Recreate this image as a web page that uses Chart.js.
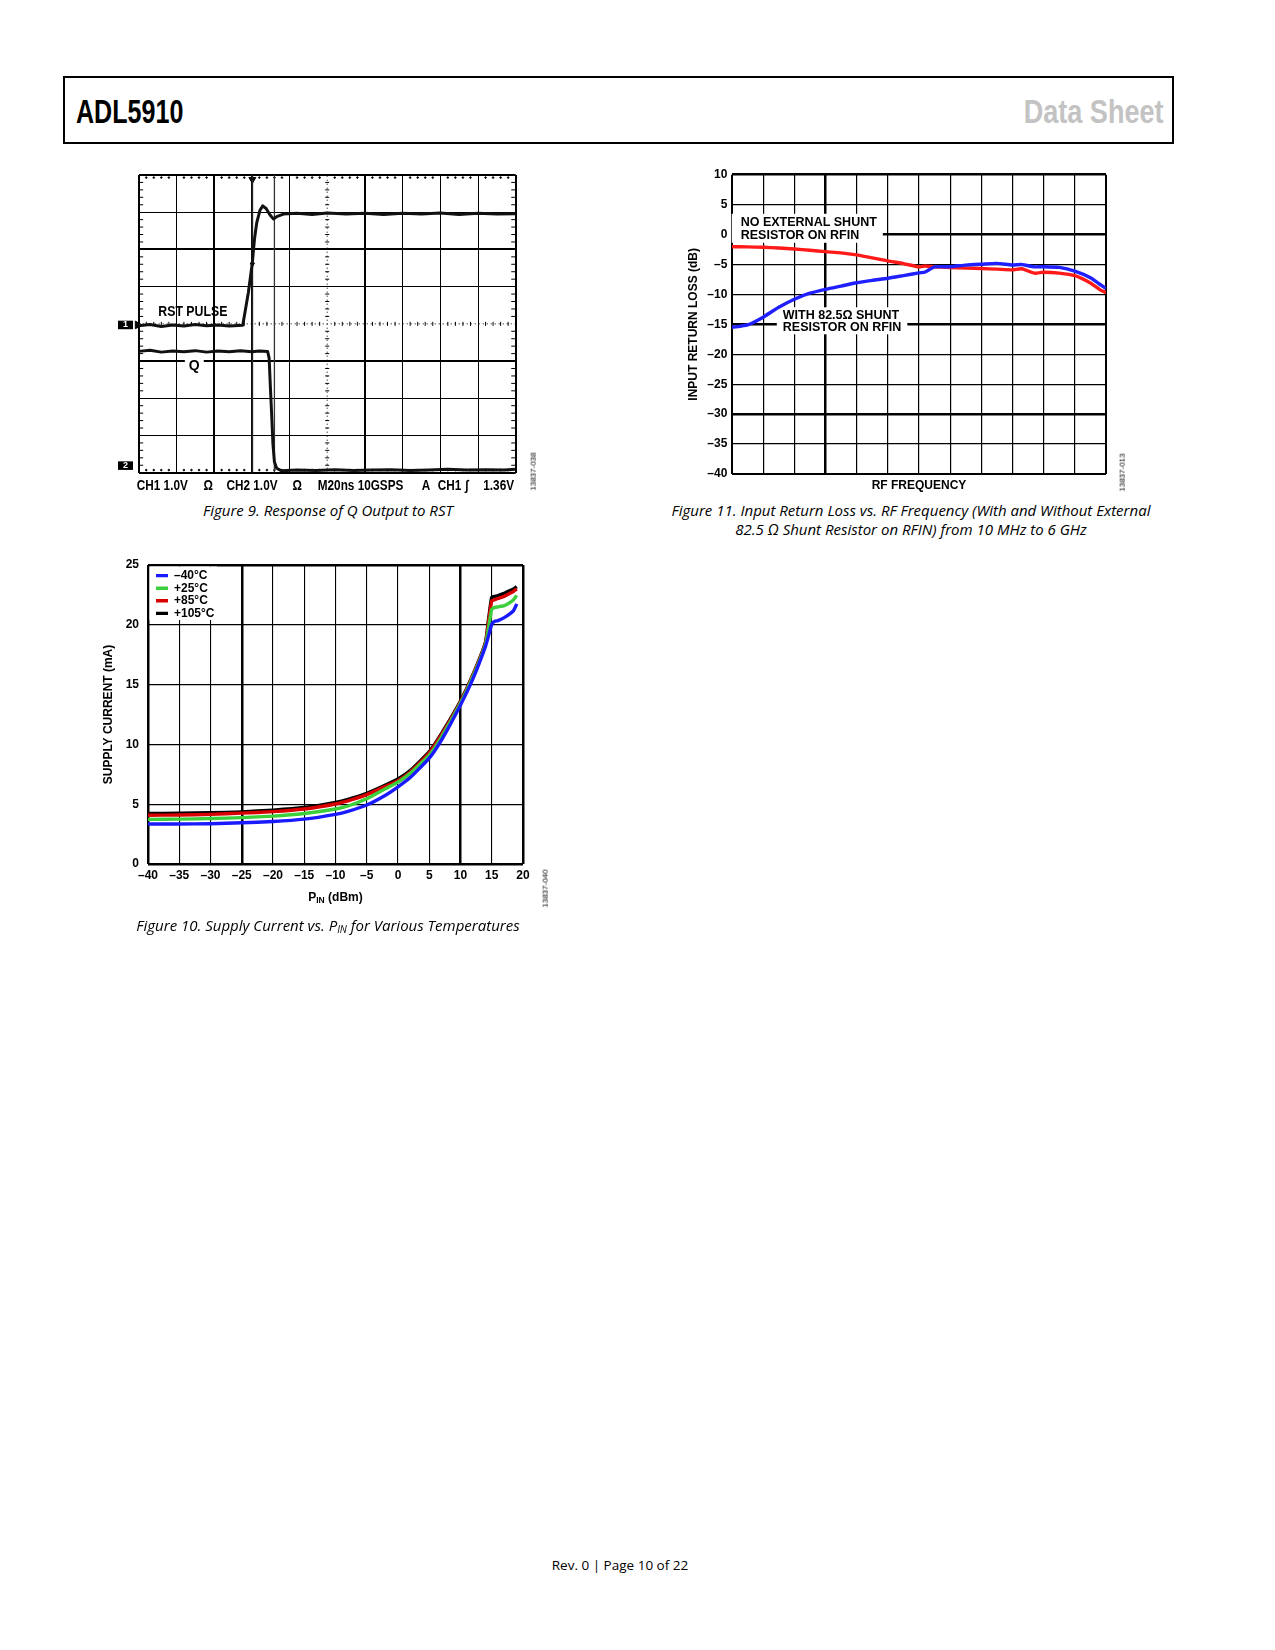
<!DOCTYPE html>
<html>
<head>
<meta charset="utf-8">
<title>ADL5910 Data Sheet - page 10</title>
<script src="https://cdn.jsdelivr.net/npm/chart.js@4.4.0/dist/chart.umd.min.js"></script>
<style>
  body { margin: 0; background: #fff; }
  #page { position: relative; width: 1275px; height: 1650px; overflow: hidden; background: #fff;
          font-family: "Liberation Sans", Arial, sans-serif; color: #000; }
  .hdr { position: absolute; left: 63px; top: 76px; width: 1111px; height: 68px;
         border: 2px solid #000; box-sizing: border-box; }
  .hdrtxt { position: absolute; top: 95px; font-family: "Liberation Sans", Arial, sans-serif;
            font-weight: bold; font-size: 33px; line-height: 33px; white-space: nowrap; transform: scaleX(0.76); }
  .plot { position: absolute; }
  .cap { position: absolute; text-align: center; font-family: "Open Sans", "Noto Sans", sans-serif;
         font-style: italic; font-size: 15px; line-height: 19px; white-space: nowrap; }
  .cap sub { font-size: 10px; vertical-align: -2px; line-height: 0; }
  .wm { position: absolute; font-size: 8px; white-space: nowrap; transform: rotate(-90deg); transform-origin: center; }
  .foot { position: absolute; left: 470px; top: 1555px; width: 300px; text-align: center;
          font-family: "Open Sans", "Noto Sans", sans-serif; font-size: 13.5px; line-height: 20px; }
</style>
</head>
<body>
<div id="page">
  <div class="hdr"></div>
  <div class="hdrtxt" style="left:76px;transform-origin:left center;">ADL5910</div>
  <div class="hdrtxt" style="right:111px;color:#c3c3c3;transform-origin:right center;transform:scaleX(0.82);">Data Sheet</div>

  <div class="plot" style="left:100px;top:160px;width:440px;height:340px;"><canvas id="fig9"></canvas></div>
  <div class="wm" style="left:514px;top:467px;">13837-038</div>
  <div class="cap" style="left:128px;top:501px;width:400px;">Figure 9. Response of Q Output to RST</div>

  <div class="plot" style="left:640px;top:160px;width:500px;height:340px;"><canvas id="fig11"></canvas></div>
  <div class="wm" style="left:1103px;top:468px;">13837-013</div>
  <div class="cap" style="left:611px;top:501px;width:600px;">Figure 11. Input Return Loss vs. RF Frequency (With and Without External<br>82.5 Ω Shunt Resistor on RFIN) from 10 MHz to 6 GHz</div>

  <div class="plot" style="left:95px;top:525px;width:455px;height:395px;"><canvas id="fig10"></canvas></div>
  <div class="wm" style="left:526px;top:884px;">13837-040</div>
  <div class="cap" style="left:128px;top:916px;width:400px;">Figure 10. Supply Current vs. P<sub>IN</sub> for Various Temperatures</div>

  <div class="foot">Rev. 0 | Page 10 of 22</div>
</div>

<script>
// ---------- Figure 9: scope screen, values in divisions (10 across, 8 up) ----------
const rstX = [0, 0.3, 0.6, 0.9, 1.2, 1.5, 1.8, 2.1, 2.4, 2.76, 2.91, 3.015, 3.07, 3.13, 3.22, 3.29, 3.38, 3.48, 3.57, 3.66, 3.84, 4.2, 4.6, 5.0, 5.5, 6.0, 6.5, 7.0, 7.5, 8.0, 8.5, 9.0, 9.5, 10];
const rstY = [3.95, 3.98, 3.93, 3.97, 3.94, 3.98, 3.95, 3.97, 3.94, 3.96, 4.85, 5.65, 6.27, 6.71, 7.06, 7.17, 7.1, 6.93, 6.82, 6.88, 6.95, 6.97, 6.94, 6.98, 6.95, 6.97, 6.94, 6.97, 6.95, 6.98, 6.94, 6.97, 6.95, 6.96];
const qX = [0, 0.3, 0.6, 0.9, 1.2, 1.5, 1.8, 2.1, 2.4, 2.7, 3.0, 3.2, 3.42, 3.46, 3.49, 3.53, 3.56, 3.6, 3.66, 3.79, 4.2, 4.7, 5.2, 5.7, 6.2, 6.7, 7.2, 7.7, 8.2, 8.7, 9.2, 9.7, 10];
const qY = [3.26, 3.29, 3.24, 3.27, 3.25, 3.28, 3.24, 3.27, 3.25, 3.28, 3.25, 3.27, 3.26, 3.08, 2.37, 1.49, 0.78, 0.29, 0.12, 0.05, 0.07, 0.06, 0.08, 0.06, 0.07, 0.08, 0.06, 0.07, 0.09, 0.07, 0.08, 0.07, 0.09];
const cursorX = [3.015, 3.6];
const markerLevels = [3.97, 0.19];
const markerNames = ['1', '2'];
const scopeInfo = [
  [-0.05, 'CH1 1.0V'], [1.72, 'Ω'], [2.33, 'CH2 1.0V'], [4.08, 'Ω'],
  [4.75, 'M20ns 10GSPS'], [7.51, 'A'], [7.93, 'CH1'], [8.66, '∫'], [9.14, '1.36V']
];

// ---------- Figure 10: supply current (mA) vs PIN (dBm) ----------
const pinDbm = [-40, -35, -30, -25, -20, -15, -10, -8, -5, -2, 0, 2, 5, 7, 10, 12, 14, 14.5, 15, 15.5, 16, 17, 18, 18.5, 19];
const iM40  = [3.34, 3.35, 3.37, 3.45, 3.55, 3.75, 4.15, 4.4, 4.93, 5.75, 6.45, 7.25, 8.85, 10.4, 13.3, 15.5, 18.2, 19.1, 20.05, 20.3, 20.35, 20.6, 20.95, 21.2, 21.75];
const iP25  = [3.73, 3.75, 3.8, 3.88, 4.0, 4.22, 4.6, 4.85, 5.45, 6.3, 6.85, 7.6, 9.1, 10.65, 13.45, 15.7, 18.35, 19.8, 21.3, 21.45, 21.5, 21.6, 21.9, 22.1, 22.45];
const iP85  = [4.08, 4.1, 4.15, 4.25, 4.38, 4.6, 5.02, 5.28, 5.8, 6.5, 6.97, 7.72, 9.3, 10.85, 13.55, 15.8, 18.45, 20.3, 22.0, 22.1, 22.2, 22.38, 22.65, 22.8, 23.0];
const iP105 = [4.22, 4.24, 4.28, 4.36, 4.5, 4.72, 5.15, 5.4, 5.9, 6.6, 7.1, 7.83, 9.4, 10.95, 13.63, 15.85, 18.55, 20.5, 22.3, 22.38, 22.45, 22.63, 22.88, 23.0, 23.2];
const tempLabels = ['–40°C', '+25°C', '+85°C', '+105°C'];
const tempColors = ['#1a1aff', '#3ccf3c', '#d80000', '#000000'];

// ---------- Figure 11: input return loss (dB), x in grid columns (10 MHz ... 6 GHz) ----------
const freqCol = [0, 0.5, 1, 1.5, 2, 2.5, 3, 3.5, 4, 4.5, 5, 5.5, 6, 6.2, 6.5, 7, 7.5, 8, 8.5, 9, 9.3, 9.7, 10, 10.5, 11, 11.5, 11.8, 12];
const rlNoShunt = [-2.03, -2.06, -2.13, -2.25, -2.42, -2.62, -2.86, -3.05, -3.4, -3.9, -4.4, -4.85, -5.4, -5.25, -5.4, -5.5, -5.6, -5.68, -5.78, -5.9, -5.72, -6.45, -6.3, -6.45, -6.88, -8.1, -9.2, -9.7];
const rlShunt   = [-15.5, -15.1, -13.8, -12.15, -10.8, -9.8, -9.15, -8.6, -8.05, -7.65, -7.3, -6.85, -6.4, -6.25, -5.4, -5.37, -5.1, -4.95, -4.82, -5.08, -5.0, -5.4, -5.37, -5.48, -6.1, -7.2, -8.3, -9.0];

const FONT = '"Liberation Sans", Arial, sans-serif';
Chart.defaults.font.family = FONT;
Chart.defaults.color = '#000';
Chart.defaults.animation = false;
Chart.defaults.events = [];
Chart.defaults.plugins.tooltip.enabled = false;
Chart.defaults.plugins.legend.display = false;

function pts(xs, ys) { return xs.map((x, i) => ({x: x, y: ys[i]})); }
function dash(s) { return String(s).replace('-', '\u2013'); }
// grid line width per tick value, a value of 0 hides the line
function gridW(special, base) {
  return c => (c.tick && special[c.tick.value] !== undefined) ? special[c.tick.value] : base;
}
function gridC(special) {
  return c => (c.tick && special[c.tick.value] === 0) ? 'rgba(0,0,0,0)' : '#000';
}

// text notes placed in data units, optional white patch below them
const notesPlugin = {
  id: 'notes',
  afterLayout(chart, args, opts) {
    if (opts.legendShift && chart.legend) {
      // a vertical legend in the chart area gets top = 0, put it back inside
      const ca = chart.chartArea;
      chart.legend.left = ca.left + opts.legendShift.x;
      chart.legend.top = ca.top + opts.legendShift.y;
      chart.legend.bottom = ca.bottom;
    }
  },
  beforeDatasetsDraw(chart, args, opts) {
    const ctx = chart.ctx;
    const xs = chart.scales.x, ys = chart.scales.y;
    if (opts.legendPatch) {
      const p = opts.legendPatch;
      const l = xs.getPixelForValue(p.x0) + 1.5, t = ys.getPixelForValue(p.y0) + 1.5;
      ctx.save();
      ctx.fillStyle = '#fff';
      ctx.fillRect(l, t, xs.getPixelForValue(p.x1) - l, ys.getPixelForValue(p.y1) - t);
      ctx.restore();
      chart.legend.draw();
    }
    (opts.items || []).forEach(it => {
      if (!it.bg) return;
      ctx.save();
      ctx.font = it.font;
      const sx = it.sx || 1;
      const w = Math.max(...it.lines.map(s => ctx.measureText(s).width)) * sx;
      const px = xs.getPixelForValue(it.x), py = ys.getPixelForValue(it.y);
      const left = it.align === 'center' ? px - w / 2 : px;
      const top = py - it.lh / 2;
      ctx.fillStyle = '#fff';
      ctx.fillRect(left - it.bg.l, top - it.bg.t, w + it.bg.l + it.bg.r, it.lh * it.lines.length + it.bg.t + it.bg.b);
      ctx.restore();
    });
  },
  afterDatasetsDraw(chart, args, opts) {
    const ctx = chart.ctx;
    const xs = chart.scales.x, ys = chart.scales.y;
    (opts.items || []).forEach(it => {
      const px = xs.getPixelForValue(it.x), py = ys.getPixelForValue(it.y);
      ctx.save();
      ctx.fillStyle = '#000';
      ctx.textBaseline = 'middle';
      if (it.segs) {
        let total = 0;
        it.segs.forEach(s => { ctx.font = s[1]; total += ctx.measureText(s[0]).width; });
        let cx = px - total / 2;
        ctx.textAlign = 'left';
        it.segs.forEach(s => {
          ctx.font = s[1];
          ctx.fillText(s[0], cx, py + (s[2] || 0));
          cx += ctx.measureText(s[0]).width;
        });
      } else {
        ctx.font = it.font;
        ctx.textAlign = it.align || 'left';
        it.lines.forEach((s, i) => {
          ctx.save();
          ctx.translate(px, py + i * it.lh);
          ctx.scale(it.sx || 1, 1);
          ctx.fillText(s, 0, 0);
          ctx.restore();
        });
      }
      ctx.restore();
    });
  }
};

// ================= Figure 9 =================
const minorSteps = [];
for (let i = 1; i < 50; i++) { if (i % 5 !== 0) minorSteps.push(i / 5); }
const minorStepsY = minorSteps.filter(v => v < 8);

const scopeFont = 'bold 14px ' + FONT;
const fig9Notes = [
  {x: 0.52, y: 4.32, lines: ['RST PULSE'], font: scopeFont, lh: 16, sx: 0.88},
  {x: 1.475, y: 2.86, lines: ['Q'], font: scopeFont, lh: 15, align: 'center', bg: {l: 4, r: 4, t: 0, b: 0}}
].concat(scopeInfo.map(s => ({x: s[0], y: -0.37, lines: [s[1]], font: scopeFont, lh: 16, sx: 0.84})));

function tickSet(xs, ys, style, radius, rot) {
  return {data: pts(xs, ys), showLine: false, pointStyle: style, pointRadius: radius, pointRotation: rot || 0,
          borderColor: '#000', backgroundColor: '#000', pointBorderWidth: 1};
}

new Chart(document.getElementById('fig9'), {
  type: 'scatter',
  data: {
    datasets: [
      {label: 'RST PULSE', data: pts(rstX, rstY), showLine: true, borderColor: '#111', borderWidth: 3, pointRadius: 0, borderJoinStyle: 'round'},
      {label: 'Q', data: pts(qX, qY), showLine: true, borderColor: '#111', borderWidth: 3, pointRadius: 0, borderJoinStyle: 'round'},
      {label: 'cursor a', data: pts([cursorX[0], cursorX[0]], [0, 8]), showLine: true, borderColor: '#222', borderWidth: 1.6, pointRadius: 0},
      {label: 'cursor b', data: pts([cursorX[1], cursorX[1]], [0, 8]), showLine: true, borderColor: '#333', borderWidth: 1.3, pointRadius: 0},
      {label: 'center v', data: pts([5, 5], [0, 8]), showLine: true, borderColor: '#000', borderWidth: 1, borderDash: [1, 3], pointRadius: 0},
      {label: 'center h', data: pts([0, 10], [4, 4]), showLine: true, borderColor: '#000', borderWidth: 1, borderDash: [1, 3], pointRadius: 0},
      tickSet(minorSteps, minorSteps.map(() => 7.93), 'circle', 0.8),
      tickSet(minorSteps, minorSteps.map(() => 0.07), 'circle', 0.8),
      tickSet(minorStepsY.map(() => 0.06), minorStepsY, 'line', 2.2),
      tickSet(minorStepsY.map(() => 9.94), minorStepsY, 'line', 2.2),
      tickSet(minorStepsY.map(() => 5), minorStepsY, 'line', 2),
      tickSet(minorSteps, minorSteps.map(() => 4), 'line', 2, 90),
      Object.assign(tickSet([cursorX[0]], [7.88], 'triangle', 4, 180), {clip: false}),
      Object.assign(tickSet([cursorX[0]], [5.6], 'triangle', 2.5, 180), {clip: false}),
      Object.assign(tickSet([-0.03], [markerLevels[0]], 'triangle', 4.5, 90), {clip: false})
    ]
  },
  options: {
    responsive: true,
    maintainAspectRatio: false,
    layout: {padding: {top: 11.3, right: 24.3, left: 0, bottom: 0}},
    scales: {
      x: {
        type: 'linear', min: 0, max: 10,
        ticks: {stepSize: 1, display: false},
        grid: {color: gridC({5: 0}), lineWidth: gridW({0: 2, 2: 2, 5: 0, 6: 2, 10: 2}, 1), drawTicks: false},
        border: {display: false},
        afterFit: s => { s.height = 27.3; }
      },
      y: {
        type: 'linear', min: 0, max: 8,
        ticks: {stepSize: 1, display: false},
        grid: {color: gridC({4: 0}), lineWidth: gridW({0: 2, 3: 2, 4: 0, 6: 2, 8: 2}, 1), drawTicks: false},
        border: {display: false},
        afterFit: s => { s.width = 0; }
      },
      yMark: {
        type: 'linear', position: 'left', min: 0, max: 8,
        afterBuildTicks: s => { s.ticks = markerLevels.map(v => ({value: v})); },
        ticks: {
          autoSkip: false, color: '#fff', padding: 10.7,
          font: {size: 9, weight: 'bold', lineHeight: 0.95},
          callback: (v, i) => markerNames[i],
          showLabelBackdrop: true, backdropColor: '#000',
          backdropPadding: {top: 0, bottom: 0, left: 5, right: 5}
        },
        grid: {display: false, drawTicks: false},
        border: {display: false},
        afterFit: s => { s.width = 38.7; }
      }
    },
    plugins: {notes: {items: fig9Notes}}
  },
  plugins: [notesPlugin]
});

// ================= Figure 10 =================
const tempSeries = [iM40, iP25, iP85, iP105];
new Chart(document.getElementById('fig10'), {
  type: 'scatter',
  data: {
    datasets: tempSeries.map((ys, k) => ({
      label: tempLabels[k], data: pts(pinDbm, ys), showLine: true,
      borderColor: tempColors[k], backgroundColor: tempColors[k],
      borderWidth: 3.4, pointRadius: 0, tension: 0.15, borderJoinStyle: 'round'
    }))
  },
  options: {
    responsive: true,
    maintainAspectRatio: false,
    layout: {padding: {top: 40, right: 27, left: 0, bottom: 0}},
    scales: {
      x: {
        type: 'linear', min: -40, max: 20,
        ticks: {stepSize: 5, padding: 4, font: {size: 12, weight: 'bold'}, callback: v => dash(v)},
        grid: {color: '#000', lineWidth: gridW({'-40': 2.5, '-25': 2.5, 10: 2.5, 20: 2.5}, 1.1), drawTicks: false},
        border: {display: false},
        afterFit: s => { s.height = 56; }
      },
      y: {
        type: 'linear', min: 0, max: 25,
        ticks: {stepSize: 5, padding: 9, font: {size: 12, weight: 'bold'}},
        grid: {color: '#000', lineWidth: gridW({0: 2.5, 25: 2.5}, 1.3), drawTicks: false},
        border: {display: false},
        title: {display: true, text: 'SUPPLY CURRENT (mA)', font: {size: 12, weight: 'bold'}, padding: {top: 6.8, bottom: 0}},
        afterFit: s => { s.width = 53; }
      }
    },
    plugins: {
      legend: {
        display: true, position: 'chartArea', align: 'start',
        labels: {usePointStyle: true, pointStyle: 'line', pointStyleWidth: 12, boxWidth: 12, boxHeight: 3,
                 padding: 0.6, color: '#000', font: {size: 12, weight: 'bold'}},
        title: {display: true, text: ' ', font: {size: 2}, padding: {top: 1.6, bottom: 0}}
      },
      notes: {
        legendShift: {x: 7.4, y: 0},
        legendPatch: {x0: -40, y0: 25, x1: -28.96, y1: 20.4},
        items: [{x: -10, y: -2.84, segs: [['P', 'bold 12px ' + FONT], ['IN', 'bold 8.5px ' + FONT, 3], [' (dBm)', 'bold 12px ' + FONT]]}]
      }
    }
  },
  plugins: [notesPlugin]
});

// ================= Figure 11 =================
const noteFont = 'bold 12.5px ' + FONT;
new Chart(document.getElementById('fig11'), {
  type: 'scatter',
  data: {
    datasets: [
      {label: 'WITH 82.5Ω SHUNT RESISTOR ON RFIN', data: pts(freqCol, rlShunt), showLine: true,
       borderColor: '#2020ff', borderWidth: 3.4, pointRadius: 0, tension: 0.2, borderJoinStyle: 'round'},
      {label: 'NO EXTERNAL SHUNT RESISTOR ON RFIN', data: pts(freqCol, rlNoShunt), showLine: true,
       borderColor: '#ff1a1a', borderWidth: 3.4, pointRadius: 0, tension: 0.2, borderJoinStyle: 'round'}
    ]
  },
  options: {
    responsive: true,
    maintainAspectRatio: false,
    layout: {padding: {top: 14.7, right: 34, left: 40, bottom: 0}},
    scales: {
      x: {
        type: 'linear', min: 0, max: 12,
        ticks: {stepSize: 1, display: false},
        grid: {color: '#000', lineWidth: gridW({0: 2, 3: 2.5, 12: 2}, 1.2), drawTicks: false},
        border: {display: false},
        title: {display: true, text: 'RF FREQUENCY', font: {size: 12, weight: 'bold'}, padding: {top: 0, bottom: 6.8}},
        afterFit: s => { s.height = 26; }
      },
      y: {
        type: 'linear', min: -40, max: 10,
        ticks: {stepSize: 5, padding: 4.7, font: {size: 12, weight: 'bold'}, callback: v => dash(v)},
        grid: {color: '#000', lineWidth: gridW({10: 2.5, 0: 2.5, '-15': 2.5, '-30': 2.5, '-40': 2}, 1.2), drawTicks: false},
        border: {display: false},
        title: {display: true, text: 'INPUT RETURN LOSS (dB)', font: {size: 12, weight: 'bold'}, padding: {top: 6.8, bottom: 0}},
        afterFit: s => { s.width = 52; }
      }
    },
    plugins: {
      notes: {
        items: [
          {x: 0.28, y: 2.05, lines: ['NO EXTERNAL SHUNT', 'RESISTOR ON RFIN'], font: noteFont, lh: 13, sx: 1, bg: {l: 9, r: 6, t: 2, b: 1}},
          {x: 1.63, y: -13.49, lines: ['WITH 82.5Ω SHUNT', 'RESISTOR ON RFIN'], font: noteFont, lh: 12, sx: 1, bg: {l: 6, r: 6, t: 2, b: 1}}
        ]
      }
    }
  },
  plugins: [notesPlugin]
});
</script>
</body>
</html>
